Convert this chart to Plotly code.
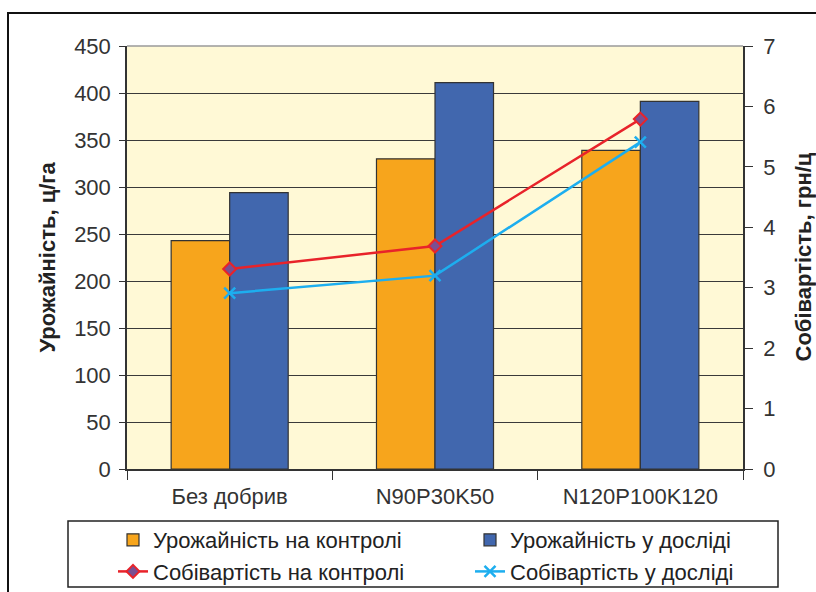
import plotly.graph_objects as go

# Categories and values
categories = ["Без добрив", "N90P30K50", "N120P100K120"]
yield_control = [243, 330, 339]
yield_trial = [294, 411, 391]
cost_control = [3.31, 3.69, 5.79]
cost_trial = [2.91, 3.20, 5.41]

series_names = [
    "Урожайність на контролі",
    "Урожайність у досліді",
    "Собівартість на контролі",
    "Собівартість у досліді",
]

FONT = "Liberation Sans, Arial, sans-serif"
W, H = 816, 592
L, R, T, B = 127, 73, 46, 123
PW, PH = W - L - R, H - T - B


def px_x(x):
    return (x - L) / PW


def px_y(y):
    return (H - B - y) / PH


fig = go.Figure()

fig.add_trace(go.Bar(
    x=categories, y=yield_control, name=series_names[0],
    marker=dict(color="#F7A51C", line=dict(color="#333333", width=1.2)),
))
fig.add_trace(go.Bar(
    x=categories, y=yield_trial, name=series_names[1],
    marker=dict(color="#4167AE", line=dict(color="#333333", width=1.2)),
))
fig.add_trace(go.Scatter(
    x=categories, y=cost_control, name=series_names[2], yaxis="y2",
    mode="lines+markers",
    line=dict(color="#E8232A", width=2.5),
    marker=dict(symbol="diamond", size=10, color="#7A4F92",
                line=dict(color="#E8232A", width=2)),
))
fig.add_trace(go.Scatter(
    x=categories, y=cost_trial, name=series_names[3], yaxis="y2",
    mode="lines+markers",
    line=dict(color="#1DAEEF", width=2.5),
    marker=dict(symbol="x-thin", size=11,
                line=dict(color="#1DAEEF", width=2.5)),
))

fig.update_layout(
    width=W, height=H,
    margin=dict(l=L, r=R, t=T, b=B, pad=0, autoexpand=False),
    paper_bgcolor="white",
    plot_bgcolor="#FFF9D6",
    font=dict(family=FONT, size=22, color="#333333"),
    barmode="group", bargap=0.43, bargroupgap=0,
    showlegend=True,
    legend=dict(
        orientation="h", x=px_x(113), xanchor="left",
        y=px_y(519), yanchor="top",
        entrywidth=312, entrywidthmode="pixels",
        bgcolor="rgba(0,0,0,0)", borderwidth=0,
        font=dict(family=FONT, size=22, color="#222222"),
        traceorder="normal",
    ),
    xaxis=dict(
        type="category", showgrid=False,
        showline=True, linecolor="#333333", linewidth=1.5,
        ticks="outside", tickson="boundaries", ticklen=9,
        tickcolor="#333333", ticklabelstandoff=7,
        tickfont=dict(size=22, color="#333333"),
    ),
    yaxis=dict(
        range=[0, 450], dtick=50,
        showgrid=True, gridcolor="#3a3a3a", gridwidth=1,
        showline=True, linecolor="#333333", linewidth=1.5,
        ticks="outside", ticklen=6, tickcolor="#333333",
        ticklabelstandoff=4,
        zeroline=False,
        tickfont=dict(size=22, color="#333333"),
    ),
    yaxis2=dict(
        range=[0, 7], dtick=1, overlaying="y", side="right",
        showgrid=False, zeroline=False,
        showline=True, linecolor="#333333", linewidth=1.5,
        ticks="outside", ticklen=8, tickcolor="#333333",
        ticklabelstandoff=6,
        tickfont=dict(size=22, color="#333333"),
    ),
    annotations=[
        dict(text="<b>Урожайність, ц/га</b>", xref="paper", yref="paper",
             x=px_x(47), y=0.5, xanchor="center", yanchor="middle",
             textangle=-90, showarrow=False,
             font=dict(family=FONT, size=22, color="#222222")),
        dict(text="<b>Собівартість, грн/ц</b>", xref="paper", yref="paper",
             x=px_x(803), y=0.5, xanchor="center", yanchor="middle",
             textangle=-90, showarrow=False,
             font=dict(family=FONT, size=22, color="#222222")),
    ],
    shapes=[
        # outer frame
        dict(type="rect", xref="paper", yref="paper",
             x0=px_x(8), x1=px_x(830), y0=px_y(610), y1=px_y(13),
             line=dict(color="#111111", width=2), fillcolor="rgba(0,0,0,0)",
             layer="above"),
        # legend box
        dict(type="rect", xref="paper", yref="paper",
             x0=px_x(68), x1=px_x(778), y0=px_y(587), y1=px_y(521),
             line=dict(color="#222222", width=1.5), fillcolor="rgba(0,0,0,0)",
             layer="above"),
        # lighter top border of the plot area
        dict(type="line", xref="paper", yref="paper",
             x0=0, x1=1, y0=1, y1=1,
             line=dict(color="#9a9a9a", width=1.5), layer="above"),
    ],
)

fig.write_html("out.html")
